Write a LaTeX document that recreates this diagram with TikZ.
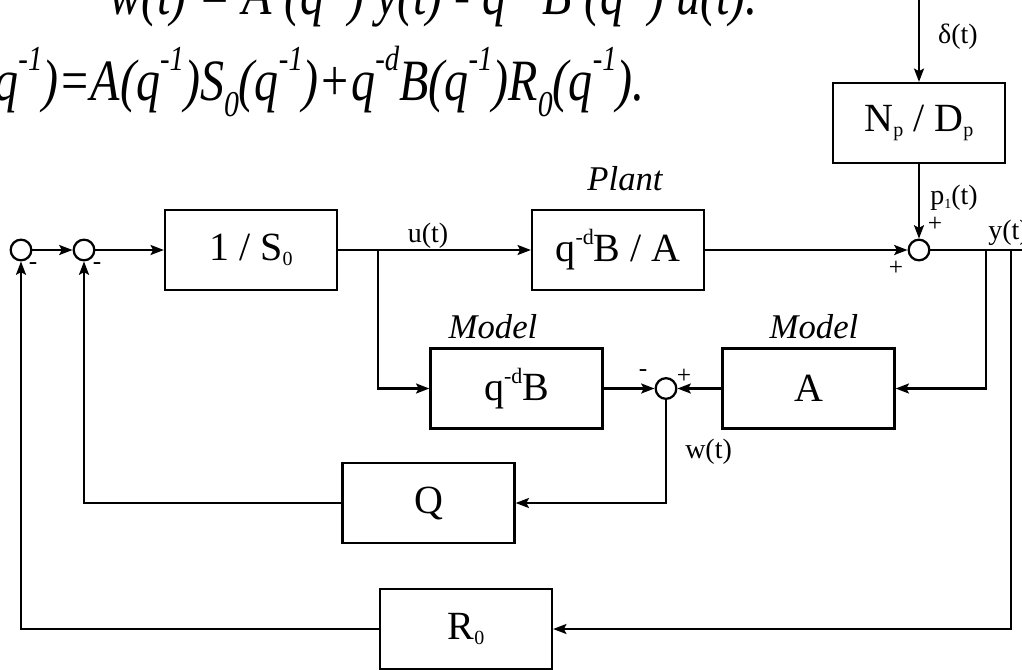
\documentclass[tikz,border=0pt]{standalone}
\usepackage{fontspec}
\usepackage{graphicx}
\setmainfont{Liberation Serif}
\usetikzlibrary{arrows.meta}
\newcommand\upx[1]{\raisebox{0.42em}{\scalebox{0.55}{#1}}}
\newcommand\dnx[1]{\raisebox{-0.12em}{\scalebox{0.5}{#1}}}
\newcommand\eup[1]{\raisebox{0.5em}{\scalebox{0.6}{#1}}}
\newcommand\edn[1]{\raisebox{-0.28em}{\scalebox{0.62}{#1}}}
\newcommand\tallx[1]{\scalebox{1}[1.22]{#1}}
\begin{document}
\begin{tikzpicture}[x=0.75pt,y=-0.75pt,
  blk/.style={draw, line width=1.7pt, minimum width=129pt, minimum height=60pt,
    inner sep=0pt, font=\fontsize{30}{36}\selectfont},
  sum/.style={circle, draw, line width=1.7pt, minimum size=15.5pt, inner sep=0pt},
  wire/.style={line width=1.7pt},
  conn/.style={line width=1.7pt, -{Stealth[length=10pt,width=7.5pt,inset=2pt]}},
  lbl/.style={inner sep=0pt, font=\fontsize{21}{24}\selectfont},
  ttl/.style={inner sep=0pt, font=\fontsize{26}{30}\selectfont\itshape},
  sgn/.style={inner sep=0pt, font=\fontsize{19}{22}\selectfont},
  eq/.style={inner sep=0pt, font=\fontsize{36}{40}\selectfont\itshape}]
\useasboundingbox (0,0) rectangle (1022,669);

% equations (cut by the page edge as in the reference)
\node[eq, anchor=base west] (eq1) at (109,14) {\tallx{w(t) = A (q\eup{-1}) y(t) - q\eup{-d} B (q\eup{-1}) u(t).}};
\node[eq, anchor=base east] (eq2) at (645,100) {\tallx{q\eup{-1})=A(q\eup{-1})S\edn{0}(q\eup{-1})+q\eup{-d}B(q\eup{-1})R\edn{0}(q\eup{-1}).}};

% summing junctions
\node[sum] (j1) at (21,250) {};
\node[sum] (j2) at (84,250) {};
\node[sum] (j3) at (919,250) {};
\node[sum] (j4) at (666,388.5) {};

% blocks
\node[blk] (s0) at (251,250) {1 / S\dnx{0}};
\node[blk] (plant) at (618,250) {q\upx{-d}B / A};
\node[blk] (np) at (919,123) {N\dnx{p} / D\dnx{p}};
\node[blk] (qdb) at (516.5,388.5) {q\upx{-d}B};
\node[blk] (a) at (808.5,388.5) {A};
\node[blk] (q) at (428.5,503) {Q};
\node[blk] (r0) at (466,629) {R\dnx{0}};

% titles
\node[ttl, anchor=base] (tplant) at (625,190) {Plant};
\node[ttl, anchor=base] (tm1) at (493,338) {Model};
\node[ttl, anchor=base] (tm2) at (814,338) {Model};

% signal labels
\node[lbl] (lu) at (428,236) {u(t)};
\node[lbl] (ld) at (958,37) {δ(t)};
\node[lbl] (lp) at (954,198) {p\dnx{1}(t)};
\node[lbl, anchor=west] (ly) at (988,233) {y(t)};
\node[lbl, anchor=west] (lw) at (685,452) {w(t)};

% signs
\node[sgn] (s1) at (33,266) {-};
\node[sgn] (s2) at (97,266) {-};
\node[sgn] (s3) at (935,224) {+};
\node[sgn] (s4) at (896,268) {+};
\node[sgn] (s5) at (643,373) {-};
\node[sgn] (s6) at (684,376) {+};

% helper points
\coordinate (din) at (919,-5);
\coordinate (br) at (378,250);
\coordinate (ya) at (986,250);
\coordinate (yr) at (1011,250);
\coordinate (yout) at (1030,250);

% connectors
\draw[conn] (j1) -- (j2);
\draw[conn] (j2) -- (s0);
\draw[conn] (s0) -- (plant);
\draw[conn] (br) |- (qdb);
\draw[conn] (plant) -- (j3);
\draw[conn] (din) -- (np);
\draw[conn] (np) -- (j3);
\draw[wire] (j3) -- (yout);
\draw[conn] (ya) |- (a);
\draw[conn] (yr) |- (r0);
\draw[conn] (a) -- (j4);
\draw[conn] (qdb) -- (j4);
\draw[conn] (j4) |- (q);
\draw[conn] (q) -| (j2);
\draw[conn] (r0) -| (j1);
\end{tikzpicture}
\end{document}
